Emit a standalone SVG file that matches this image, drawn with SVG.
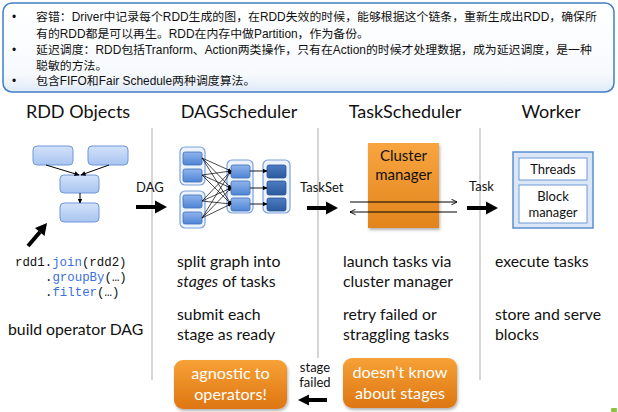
<svg xmlns="http://www.w3.org/2000/svg" width="618" height="412" viewBox="0 0 618 412">
  <defs>
    <linearGradient id="noteBg" x1="0" y1="0" x2="0" y2="1">
      <stop offset="0" stop-color="#ffffff"/>
      <stop offset="0.8" stop-color="#f7fafd"/>
      <stop offset="1" stop-color="#dfeaf7"/>
    </linearGradient>
    <linearGradient id="rddFill" x1="0" y1="0" x2="0" y2="1">
      <stop offset="0" stop-color="#d3e2fa"/>
      <stop offset="1" stop-color="#a8c4f0"/>
    </linearGradient>
    <linearGradient id="taskFill" x1="0" y1="0" x2="0" y2="1">
      <stop offset="0" stop-color="#8fb4ec"/>
      <stop offset="1" stop-color="#4f84d4"/>
    </linearGradient>
    <linearGradient id="darkFill" x1="0" y1="0" x2="0" y2="1">
      <stop offset="0" stop-color="#4c7cc4"/>
      <stop offset="1" stop-color="#2c5a9e"/>
    </linearGradient>
    <linearGradient id="orangeFill" x1="0" y1="0" x2="0" y2="1">
      <stop offset="0" stop-color="#f7a136"/>
      <stop offset="1" stop-color="#de7612"/>
    </linearGradient>
    <linearGradient id="clusterFill" x1="0" y1="0" x2="0" y2="1">
      <stop offset="0" stop-color="#f8a540"/>
      <stop offset="1" stop-color="#e2841c"/>
    </linearGradient>
    <filter id="shadow" x="-10%" y="-10%" width="130%" height="140%">
      <feDropShadow dx="1" dy="2" stdDeviation="1.5" flood-color="#000" flood-opacity="0.3"/>
    </filter>
    <marker id="tip" viewBox="0 0 10 10" refX="9" refY="5" markerWidth="5" markerHeight="5" orient="auto">
      <path d="M0,0 L10,5 L0,10 z" fill="#000"/>
    </marker>
    <marker id="tipOpen" viewBox="0 0 10 10" refX="9" refY="5" markerWidth="7" markerHeight="7" orient="auto">
      <path d="M1,1 L9,5 L1,9" fill="none" stroke="#000" stroke-width="1.3"/>
    </marker>
  </defs>
  <style>
    .note { font-family: "Liberation Sans", "Noto Sans CJK SC", sans-serif; font-size: 11.9px; fill: #111; }
    .title { font-family: "Lato", "Open Sans", sans-serif; font-size: 18px; fill: #111; }
    .body { font-family: "Lato", "Open Sans", sans-serif; font-size: 15.8px; fill: #111; }
    .small { font-family: "Lato", "Open Sans", sans-serif; font-size: 13px; fill: #111; }
    .inbox { font-family: "Lato", "Open Sans", sans-serif; font-size: 15px; fill: #111; text-anchor: middle; }
    .btn { font-family: "Lato", "Open Sans", sans-serif; font-size: 16.2px; fill: #fff; text-anchor: middle; }
    .code { font-family: "Liberation Mono", "DejaVu Sans Mono", monospace; font-size: 12.4px; fill: #111; }
    .kw { fill: #3a6fe0; }
    .sep { stroke: #c8c8c8; stroke-width: 1.5; }
    .rdd { fill: url(#rddFill); stroke: #6f98d8; stroke-width: 1; }
    .grp { fill: #edf3fc; stroke: #7ca2da; stroke-width: 1.2; }
    .task { fill: url(#taskFill); stroke: #3c6cbc; stroke-width: 0.8; }
    .dark { fill: url(#darkFill); stroke: #2a5296; stroke-width: 0.8; }
    .thin { stroke: #000; stroke-width: 1; fill: none; }
    .thick { stroke: #000; stroke-width: 4; fill: none; }
    .head { fill: #000; }
  </style>

  <!-- note box -->
  <g id="notes">
    <rect x="3" y="3" width="611" height="89" rx="9" fill="url(#noteBg)" stroke="#3f7fc4" stroke-width="1.5"/>
    <text class="note" x="12" y="20.5">•</text>
    <text class="note" x="36" y="20.5">容错：Driver中记录每个RDD生成的图，在RDD失效的时候，能够根据这个链条，重新生成出RDD，确保所</text>
    <text class="note" x="36" y="37.5">有的RDD都是可以再生。RDD在内存中做Partition，作为备份。</text>
    <text class="note" x="12" y="53.5">•</text>
    <text class="note" x="36" y="53.5">延迟调度：RDD包括Tranform、Action两类操作，只有在Action的时候才处理数据，成为延迟调度，是一种</text>
    <text class="note" x="36" y="69.5">聪敏的方法。</text>
    <text class="note" x="12" y="85">•</text>
    <text class="note" x="36" y="85">包含FIFO和Fair Schedule两种调度算法。</text>
  </g>

  <!-- column separators -->
  <g id="separators">
    <line class="sep" x1="152" y1="128" x2="152" y2="380"/>
    <line class="sep" x1="318" y1="128" x2="318" y2="358"/>
    <line class="sep" x1="480" y1="128" x2="480" y2="380"/>
  </g>

  <!-- RDD Objects column -->
  <g id="rdd-objects">
    <text class="title" x="78" y="118" text-anchor="middle">RDD Objects</text>
    <rect class="rdd" x="33" y="146" width="40" height="19" rx="4"/>
    <rect class="rdd" x="88" y="146" width="40" height="19" rx="4"/>
    <rect class="rdd" x="60" y="175" width="39" height="18" rx="4"/>
    <rect class="rdd" x="60" y="203" width="39" height="19" rx="4"/>
    <text class="code" x="15" y="266">rdd1.<tspan class="kw">join</tspan>(rdd2)</text>
    <text class="code" x="45" y="281">.<tspan class="kw">groupBy</tspan>(…)</text>
    <text class="code" x="45" y="296">.<tspan class="kw">filter</tspan>(…)</text>
    <text class="body" x="8" y="335">build operator DAG</text>
  </g>

  <!-- DAGScheduler column -->
  <g id="dag-scheduler">
    <text class="title" x="239" y="118" text-anchor="middle">DAGScheduler</text>
    <rect class="grp" x="180" y="147" width="25" height="38" rx="5"/>
    <rect class="grp" x="180" y="191" width="25" height="37" rx="5"/>
    <rect class="grp" x="227" y="160" width="26" height="53" rx="5"/>
    <rect class="grp" x="263" y="160" width="27" height="53" rx="5"/>
    <rect class="task" x="183" y="152" width="19" height="13" rx="2"/>
    <rect class="task" x="183" y="169" width="19" height="13" rx="2"/>
    <rect class="task" x="183" y="195" width="19" height="13" rx="2"/>
    <rect class="task" x="183" y="212" width="19" height="12" rx="2"/>
    <rect class="task" x="231" y="165" width="19" height="13" rx="2"/>
    <rect class="task" x="231" y="181" width="19" height="14" rx="2"/>
    <rect class="task" x="231" y="198" width="19" height="13" rx="2"/>
    <rect class="dark" x="267" y="165" width="19" height="13" rx="2"/>
    <rect class="dark" x="267" y="181" width="19" height="14" rx="2"/>
    <rect class="dark" x="267" y="198" width="19" height="13" rx="2"/>
    <text class="body" x="177" y="267">split graph into</text>
    <text class="body" x="177" y="287"><tspan font-style="italic">stages</tspan> of tasks</text>
    <text class="body" x="177" y="320">submit each</text>
    <text class="body" x="177" y="340">stage as ready</text>
    <rect x="174" y="360" width="113" height="49" rx="9" fill="url(#orangeFill)" filter="url(#shadow)"/>
    <text class="btn" x="230.5" y="379">agnostic to</text>
    <text class="btn" x="230.5" y="400">operators!</text>
  </g>

  <!-- TaskScheduler column -->
  <g id="task-scheduler">
    <text class="title" x="405" y="118" text-anchor="middle">TaskScheduler</text>
    <rect x="368" y="143" width="71" height="85" fill="url(#clusterFill)" filter="url(#shadow)"/>
    <text class="inbox" x="403.5" y="161">Cluster</text>
    <text class="inbox" x="403.5" y="180">manager</text>
    <text class="body" x="343" y="267">launch tasks via</text>
    <text class="body" x="343" y="287">cluster manager</text>
    <text class="body" x="343" y="320">retry failed or</text>
    <text class="body" x="343" y="340">straggling tasks</text>
    <rect x="343" y="358" width="114" height="50" rx="9" fill="url(#orangeFill)" filter="url(#shadow)"/>
    <text class="btn" x="400" y="378">doesn’t know</text>
    <text class="btn" x="400" y="399">about stages</text>
  </g>

  <!-- Worker column -->
  <g id="worker">
    <text class="title" x="551" y="118" text-anchor="middle">Worker</text>
    <rect x="513" y="152" width="80" height="76" fill="#dbe7f7" stroke="#5b8ed2" stroke-width="1.5"/>
    <rect x="519" y="158" width="68" height="22" fill="#fff" stroke="#6f9ad6" stroke-width="1"/>
    <rect x="519" y="185" width="68" height="38" fill="#fff" stroke="#6f9ad6" stroke-width="1"/>
    <text class="small" x="553" y="174" text-anchor="middle">Threads</text>
    <text class="small" x="553" y="201" text-anchor="middle">Block</text>
    <text class="small" x="553" y="217" text-anchor="middle">manager</text>
    <text class="body" x="495" y="267">execute tasks</text>
    <text class="body" x="495" y="320">store and serve</text>
    <text class="body" x="495" y="340">blocks</text>
  </g>

  <!-- connector labels -->
  <g id="labels">
    <text class="small" x="136" y="192">DAG</text>
    <text class="small" x="300" y="192">TaskSet</text>
    <text class="small" x="469" y="191">Task</text>
    <text class="small" x="315" y="372" text-anchor="middle">stage</text>
    <text class="small" x="315" y="387" text-anchor="middle">failed</text>
  </g>

  <!-- connectors -->
  <g id="connectors">
    <!-- RDD lineage -->
    <line class="thin" x1="46" y1="165" x2="79" y2="175" marker-end="url(#tip)"/>
    <line class="thin" x1="109" y1="165" x2="81" y2="175" marker-end="url(#tip)"/>
    <line class="thin" x1="80" y1="193" x2="80" y2="203" marker-end="url(#tip)"/>
    <!-- pointer to code -->
    <line class="thick" x1="28" y1="246" x2="40" y2="232" stroke-width="3.5"/>
    <polygon class="head" points="47,223 44.5,236 35,228"/>
    <!-- stage edges -->
    <g stroke="#000" stroke-width="0.7" marker-end="url(#tip)">
      <line x1="202" y1="158" x2="231" y2="171"/>
      <line x1="202" y1="158" x2="231" y2="188"/>
      <line x1="202" y1="158" x2="231" y2="204"/>
      <line x1="202" y1="175" x2="231" y2="171"/>
      <line x1="202" y1="175" x2="231" y2="188"/>
      <line x1="202" y1="175" x2="231" y2="204"/>
      <line x1="202" y1="201" x2="231" y2="171"/>
      <line x1="202" y1="201" x2="231" y2="188"/>
      <line x1="202" y1="201" x2="231" y2="204"/>
      <line x1="202" y1="218" x2="231" y2="171"/>
      <line x1="202" y1="218" x2="231" y2="188"/>
      <line x1="202" y1="218" x2="231" y2="204"/>
    </g>
    <g stroke="#000" stroke-width="0.9" marker-end="url(#tip)">
      <line x1="250" y1="171" x2="267" y2="171"/>
      <line x1="250" y1="188" x2="267" y2="188"/>
      <line x1="250" y1="204" x2="267" y2="204"/>
    </g>
    <!-- thick flow arrows -->
    <line class="thick" x1="136" y1="207" x2="157" y2="207"/>
    <polygon class="head" points="155,200.5 167,207 155,213.5"/>
    <line class="thick" x1="307" y1="208" x2="328" y2="208"/>
    <polygon class="head" points="326,201.5 338,208 326,214.5"/>
    <line class="thick" x1="467" y1="208" x2="488" y2="208"/>
    <polygon class="head" points="486,201.5 498,208 486,214.5"/>
    <!-- cluster manager round trip -->
    <line class="thin" x1="350" y1="202" x2="457" y2="202" stroke-width="1.3" marker-end="url(#tipOpen)"/>
    <line class="thin" x1="457" y1="212" x2="350" y2="212" stroke-width="1.3" marker-end="url(#tipOpen)"/>
    <!-- stage failed back to DAGScheduler -->
    <line class="thick" x1="327" y1="400" x2="307" y2="400" stroke-width="3.5"/>
    <polygon class="head" points="309,394.5 298,400 309,405.5"/>
  </g>

  <!-- corner mark -->
  <rect x="611" y="408" width="6" height="4" rx="1" fill="#8cc63f"/>
</svg>
